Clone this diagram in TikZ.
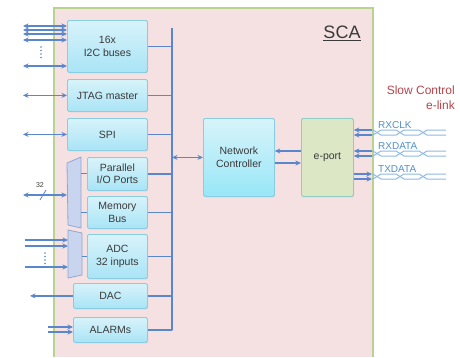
\documentclass[tikz,border=0pt]{standalone}
\usepackage{fontspec}
\setmainfont{Liberation Sans}
\usetikzlibrary{arrows.meta,shadows}
\definecolor{pinkbg}{HTML}{F5E1E1}
\definecolor{scaborder}{HTML}{B8D38E}
\definecolor{blktop}{HTML}{D8F3FA}
\definecolor{blkbot}{HTML}{A9E4F6}
\definecolor{blkborder}{HTML}{88CDE2}
\definecolor{linecol}{HTML}{5A86CB}
\definecolor{muxfill}{HTML}{C9D5EE}
\definecolor{muxborder}{HTML}{8FA6D6}
\definecolor{epfill}{HTML}{DCE7C6}
\definecolor{epborder}{HTML}{8ECDC4}
\definecolor{txt}{HTML}{3A3A3A}
\definecolor{redtext}{HTML}{B5444A}
\definecolor{pairline}{HTML}{8DB9E4}
\definecolor{labelblue}{HTML}{4F8FCB}
\begin{document}
\begin{tikzpicture}[x=1pt,y=-1pt,
  blk/.style={draw=blkborder, line width=0.8pt, top color=blktop, bottom color=blkbot,
    rounded corners=1.5pt, anchor=north west, inner sep=0pt, align=center,
    font=\fontsize{10.5}{12.5}\selectfont, text=txt,
    drop shadow={opacity=0.18, shadow xshift=0.8pt, shadow yshift=-0.9pt}},
  epbox/.style={blk, draw=epborder, top color=epfill, bottom color=epfill},
  ln/.style={draw=linecol, line width=1.3pt},
  arr/.style={ln, -{Stealth[length=5.5pt,width=5pt]}},
  darr/.style={ln, {Stealth[length=5.5pt,width=5pt]}-{Stealth[length=5.5pt,width=5pt]}},
  mux/.style={draw=muxborder, fill=muxfill, line width=0.8pt, line join=round},
  pairst/.style={draw=pairline, line width=1pt},
  sig/.style={anchor=base west, text=labelblue, font=\fontsize{10}{12}\selectfont, inner sep=0pt}
]
\useasboundingbox (0,0) rectangle (460,357);
% SCA container
\fill[pinkbg] (54,8) rectangle (373,357);
\draw[scaborder, line width=1.2pt] (54,357) -- (54,8) -- (373,8) -- (373,357);
\node[font=\fontsize{18}{20}\selectfont, text=txt] (sca) at (342,33) {\underline{SCA}};
\node[anchor=north east, align=right, text=redtext, font=\fontsize{12}{14.5}\selectfont, inner sep=0pt] (sc) at (455,86) {Slow Control\\e-link};

% blocks
\node[blk, minimum width=80pt, minimum height=52pt] (i2c) at (67,20) {16x\\I2C buses};
\node[blk, minimum width=80pt, minimum height=32pt] (jtag) at (67,79) {JTAG master};
\node[blk, minimum width=80pt, minimum height=32pt] (spi) at (67,118) {SPI};
\node[blk, minimum width=60pt, minimum height=33pt] (par) at (87,157) {Parallel\\I/O Ports};
\node[blk, minimum width=60pt, minimum height=32pt] (mem) at (87,196) {Memory\\Bus};
\node[blk, minimum width=60pt, minimum height=44pt] (adc) at (87,234) {ADC\\32 inputs};
\node[blk, minimum width=74pt, minimum height=25pt] (dac) at (73,283) {DAC};
\node[blk, minimum width=74pt, minimum height=25pt] (alarm) at (73,317) {ALARMs};
\node[blk, minimum width=71pt, minimum height=78pt, bottom color=blkbot!90!cyan] (nc) at (203,118) {Network\\Controller};
\node[epbox, minimum width=52pt, minimum height=78pt] (ep) at (301,118) {e-port};

% muxes
\draw[mux] (67,163) -- (81,157) -- (81,228) -- (68,225) -- cycle;
\draw[mux] (68,230) -- (82,233) -- (82,275) -- (68,278) -- cycle;
\coordinate (m1L) at (67,195);
\coordinate (m1R) at (81,0);
\coordinate (m2L) at (68,0);
\coordinate (m2R) at (82,0);
\draw[ln, line width=1pt] (m1R |- par.west) -- (par.west);
\draw[ln, line width=1pt] (m1R |- mem.west) -- (mem.west);
\draw[ln, line width=1pt] (m2R |- adc.west) -- (adc.west);

% internal bus
\coordinate (bt) at (172,28);
\draw[ln, line width=1.6pt, line join=round] (bt) -- (alarm.east -| bt) -- (alarm.east);
\foreach \b in {i2c,jtag,spi,par,mem,adc,dac}
  \draw[ln] (\b.east) -- (\b.east -| bt);
\draw[darr] (nc.west -| bt) -- (nc.west);
\draw[arr] (ep.west |- 0,151) -- (nc.east |- 0,151);
\draw[arr] (nc.east |- 0,163) -- (ep.west |- 0,163);

% external left side
\coordinate (xL) at (23,0);
\foreach \yy in {26,30,34,40,66}
  \draw[darr] (xL |- 0,\yy) -- (i2c.west |- 0,\yy);
\foreach \yy in {47,50.5,54,57.5}
  \fill[linecol] (41,\yy) circle (0.8);
\draw[darr] (xL |- jtag.west) -- (jtag.west);
\draw[darr] (xL |- spi.west) -- (spi.west);
\draw[darr] (xL |- m1L) -- (m1L);
\draw[linecol, line width=0.8pt] (40,200) -- (46,190);
\node[font=\fontsize{7}{8}\selectfont, text=txt, inner sep=0pt] (n32) at (40,185) {32};
\coordinate (xA) at (25,0);
\foreach \yy in {240,246,267}
  \draw[arr] (xA |- 0,\yy) -- (m2L |- 0,\yy);
\foreach \yy in {253,256.5,260,263.5}
  \fill[linecol] (45,\yy) circle (0.8);
\coordinate (xD) at (30,0);
\draw[arr] (dac.west) -- (xD |- dac.west);
\coordinate (xE) at (48,0);
\foreach \yy in {327,332}
  \draw[arr] (xE |- 0,\yy) -- (alarm.west |- 0,\yy);

% e-link signals
\coordinate (bx) at (372,0);
\foreach \ya/\yb in {130/135,151/156}{
  \draw[arr] (bx |- 0,\ya) -- (ep.east |- 0,\ya);
  \draw[arr] (bx |- 0,\yb) -- (ep.east |- 0,\yb);
}
\draw[arr] (ep.east |- 0,174) -- (bx |- 0,174);
\draw[arr] (ep.east |- 0,179) -- (bx |- 0,179);
\foreach \ya/\yb in {130/135,151/156,174/179}{
  \draw[pairst] (372,\ya) -- (373,\ya) -- (381,\yb) -- (396,\yb) -- (404,\ya) -- (419,\ya) -- (427,\yb) -- (446,\yb);
  \draw[pairst] (372,\yb) -- (373,\yb) -- (381,\ya) -- (396,\ya) -- (404,\yb) -- (419,\yb) -- (427,\ya) -- (446,\ya);
}
\node[sig] (rxclk) at (378,128) {RXCLK};
\node[sig] (rxdata) at (378,149) {RXDATA};
\node[sig] (txdata) at (378,172) {TXDATA};
\end{tikzpicture}
\end{document}
